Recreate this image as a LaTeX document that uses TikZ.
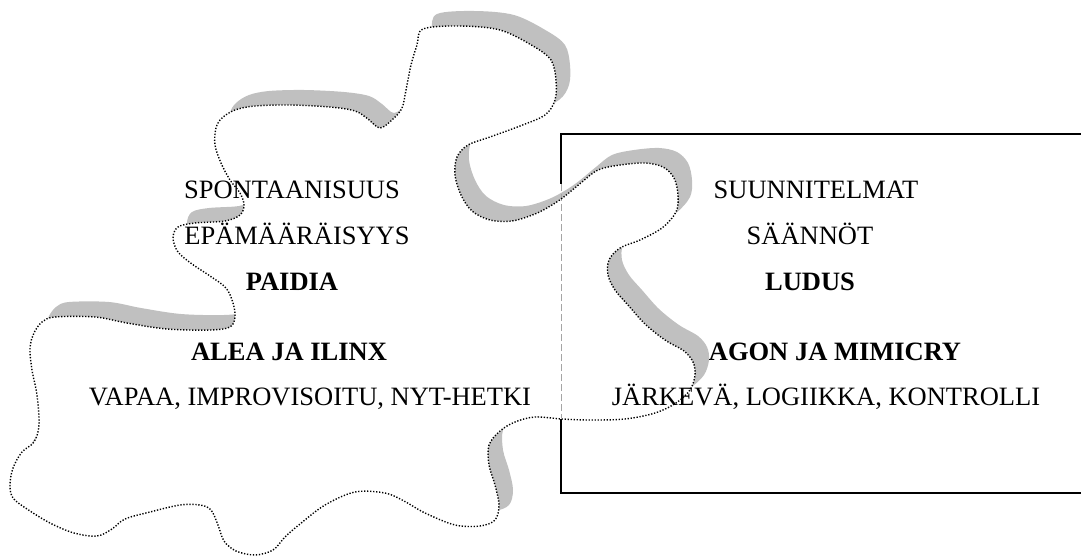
\documentclass[tikz,border=0pt]{standalone}
\usepackage{fontspec}
\setmainfont{Liberation Serif}
\usepackage{xcolor}
\usepackage{tikz}
\usetikzlibrary{calc}
\definecolor{shadowgray}{RGB}{192, 192, 192}
\definecolor{hiddengray}{RGB}{165, 165, 165}
\newcommand{\blobpath}{plot[smooth cycle, tension=0.55] coordinates {
  (423,29) (460,26) (500,30) (533,46) (551,60) (556,80) (555,100) (545,115)
  (520,126) (490,137) (468,145) (457,157) (455,175) (461,195) (472,211) (490,220)
  (512,221) (535,214) (552,205) (565,196) (582,182) (598,170) (620,165) (645,163)
  (663,167) (674,178) (678,195) (676,212) (662,228) (640,240) (620,248) (609,260)
  (608,275) (615,290) (628,305) (645,324) (665,340) (684,351) (693,362) (695,375)
  (690,390) (676,403) (655,413) (625,419) (590,420) (562,419) (535,417) (515,422)
  (500,431) (489,445) (489,465) (495,485) (499,505) (495,520) (480,526) (455,525)
  (425,513) (404,501) (385,493) (355,492) (325,505) (300,524) (285,537) (273,550)
  (255,555) (236,551) (224,541) (218,525) (211,510) (200,505) (180,505) (150,512)
  (125,519) (112,529) (97,536) (74,533) (50,523) (27,509) (13,498) (10,485)
  (13,468) (22,452) (34,442) (39,425) (37,395) (32,370) (30,348) (34,333)
  (42,322) (55,317) (95,317) (127,323) (167,329) (210,330) (230,327) (235,317)
  (233,303) (226,288) (210,276) (192,264) (178,252) (173,238) (178,227) (195,223)
  (225,221) (240,215) (244,205) (240,193) (230,180) (221,163) (215,145) (216,128)
  (222,118) (235,110) (255,106) (290,105) (330,107) (355,111) (368,119) (380,128)
  (393,119) (402,108) (406,90) (411,65) (417,45)}}

\begin{document}
\begin{tikzpicture}[x=1pt, y=-1pt, every node/.style={font=\fontsize{26.5}{32}\selectfont, anchor=base, inner sep=0pt},
    boldline/.style={font=\fontsize{26.5}{32}\selectfont\bfseries}]
  \useasboundingbox (0,0) rectangle (1081,556);
  % box, open to the right
  \draw[line width=1.1pt] (1081,134) -- (561,134) -- (561,184);
  \draw[line width=1.1pt] (561,418) -- (561,493) -- (1081,493);
  % blob with its shadow
  \fill[shadowgray, xshift=14pt, yshift=15pt] \blobpath;
  \fill[white] \blobpath;
  \draw[hiddengray, line width=0.8pt, dash pattern=on 7pt off 3pt] (561,184) -- (561,418);
  \draw[line width=1.4pt, dash pattern=on 1.3pt off 1.7pt] \blobpath;
  % left texts
  \node (spont) at (292,199) {SPONTAANISUUS};
  \node (epama) at (297,244) {EPÄMÄÄRÄISYYS};
  \node[boldline] (paidia) at (292,290) {PAIDIA};
  \node[boldline] (alea) at (289,360) {ALEA JA ILINX};
  \node (vapaa) at (310,405) {VAPAA, IMPROVISOITU, NYT-HETKI};
  % right texts
  \node (suunn) at (816,199) {SUUNNITELMAT};
  \node (saannot) at (810,244) {SÄÄNNÖT};
  \node[boldline] (ludus) at (810,290) {LUDUS};
  \node[boldline] (agon) at (835,360) {AGON JA MIMICRY};
  \node (jarkeva) at (826,405) {JÄRKEVÄ, LOGIIKKA, KONTROLLI};
\end{tikzpicture}
\end{document}
